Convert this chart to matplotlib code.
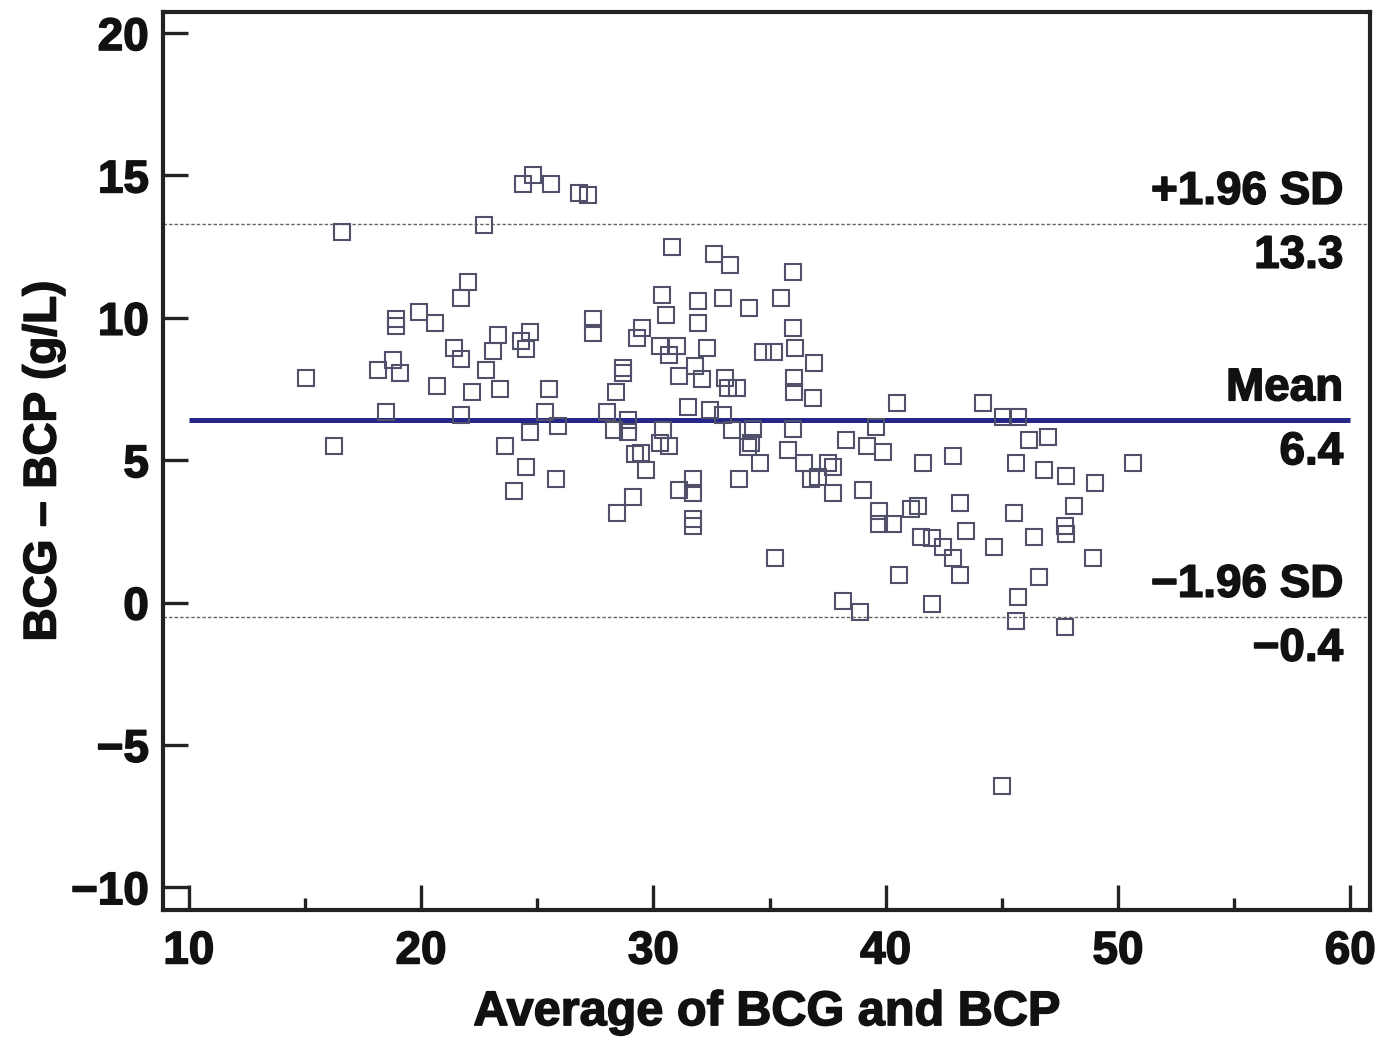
import matplotlib
matplotlib.use("Agg")
import matplotlib.pyplot as plt
import matplotlib.patheffects as pe
from matplotlib.ticker import MultipleLocator

# Bland-Altman data: average vs difference (g/L)
avg = [15.05, 16.25, 16.6, 18.15, 18.5, 18.8, 18.9, 18.9, 19.1, 19.9,
       20.6, 20.7, 21.4, 21.7, 21.7, 21.7, 22.0, 22.2, 22.7, 22.8,
       23.1, 23.3, 23.4, 23.6, 24.0, 24.3, 24.4, 24.5, 24.5, 24.7,
       24.7, 24.8, 25.35, 25.5, 25.6, 25.8, 25.9, 26.8, 27.2, 27.4,
       27.4, 28.0, 28.3, 28.4, 28.45, 28.7, 28.7, 28.9, 28.9, 29.1,
       29.2, 29.45, 29.3, 29.5, 29.7, 30.3, 30.65, 30.3, 30.35, 30.4,
       30.55, 30.65, 30.8, 31.0, 31.1, 31.1, 31.5, 31.7, 31.7, 31.7,
       31.7, 31.8, 31.9, 31.9, 32.1, 32.3, 32.45, 32.6, 33.0, 33.0,
       33.1, 33.2, 33.3, 33.4, 33.6, 33.7, 34.05, 34.1, 34.2, 34.3,
       34.6, 34.7, 35.2, 35.25, 35.5, 35.8, 36.0, 36.0, 36.0, 36.05,
       36.05, 36.1, 36.5, 36.8, 36.85, 36.9, 37.1, 37.5, 37.75, 37.75,
       38.15, 38.3, 38.9, 39.0, 39.2, 39.6, 39.7, 39.7, 39.9, 40.3,
       40.5, 40.55, 41.1, 41.4, 41.5, 41.6, 42.0, 42.0, 42.45, 42.9,
       42.9, 43.2, 43.2, 43.45, 44.2, 44.65, 45.0, 45.05, 45.5, 45.6,
       45.6, 45.7, 45.7, 46.15, 46.4, 46.6, 46.8, 47.0, 47.7, 47.75,
       47.75, 47.7, 48.1, 48.9, 49.0, 50.65]
diff = [7.9, 5.5, 13.0, 8.15, 6.7, 8.5, 9.95, 9.7, 8.05, 10.2,
        9.8, 7.6, 8.95, 8.55, 10.7, 6.6, 11.25, 7.4, 13.25, 8.15,
        8.85, 9.4, 7.5, 5.5, 3.9, 9.2, 14.7, 8.9, 4.75, 9.5,
        6.0, 15.0, 6.7, 7.5, 14.7, 4.35, 6.2, 14.4, 14.3, 9.95,
        9.45, 6.7, 6.05, 7.4, 3.15, 8.25, 8.05, 6.4, 6.0, 3.7,
        5.2, 5.25, 9.3, 9.65, 4.65, 5.6, 5.5, 9.0, 10.8, 6.05,
        10.1, 8.7, 12.5, 9.0, 7.95, 3.95, 6.85, 4.35, 3.85, 2.95,
        2.7, 8.3, 10.6, 9.8, 7.85, 8.95, 6.75, 12.25, 10.7, 6.6,
        7.9, 7.55, 11.85, 6.05, 7.55, 4.35, 5.45, 10.35, 5.6, 6.1,
        4.9, 8.8, 8.8, 1.55, 10.7, 5.35, 11.6, 9.65, 6.1, 7.9,
        7.4, 8.95, 4.9, 4.35, 7.2, 8.4, 4.4, 4.9, 4.75, 3.85,
        0.05, 5.7, -0.35, 3.95, 5.5, 6.15, 3.2, 2.75, 5.3, 2.75,
        7.0, 0.95, 3.3, 3.4, 2.3, 4.9, 2.25, -0.05, 1.95, 5.15,
        1.55, 3.5, 0.95, 2.5, 7.0, 1.95, -6.45, 6.5, 3.15, 4.9,
        -0.65, 6.5, 0.2, 5.7, 2.3, 0.9, 4.65, 5.8, 2.7, 2.4,
        4.45, -0.85, 3.4, 1.55, 4.2, 4.9]

mean_diff = 6.4
upper_loa = 13.3
lower_loa = -0.5
ref_labels = [("+1.96 SD", "13.3"), ("Mean", "6.4"), ("\u22121.96 SD", "\u22120.4")]

x_ticks = [10, 20, 30, 40, 50, 60]
y_ticks = [-10, -5, 0, 5, 10, 15, 20]

plt.rcParams["font.family"] = ["Liberation Sans", "DejaVu Sans"]
plt.rcParams["font.weight"] = "bold"

INK = "#111111"
heavy = [pe.withStroke(linewidth=1.1, foreground=INK)]

fig = plt.figure(figsize=(13.8, 10.43), dpi=100, facecolor="white")
ax = fig.add_axes([0.118, 0.1275, 0.875, 0.861])

ax.plot(avg, diff, linestyle="none", marker="s", markersize=11,
        markerfacecolor="none", markeredgecolor="#50506a", markeredgewidth=1.5,
        zorder=3)

ax.hlines(mean_diff, 10, 60, color="#25258a", linewidth=3.6, zorder=2)
ax.hlines([upper_loa, lower_loa], 8.9, 60.9, color="#666666", linewidth=1.0,
          linestyles=(0, (2.5, 1.5)), zorder=1)

# right-side annotations
label_ys = [upper_loa, mean_diff, lower_loa]
for (top, bottom), yv in zip(ref_labels, label_ys):
    ax.text(59.7, yv + 0.35, top, ha="right", va="bottom", fontsize=33,
            fontweight="bold", color=INK, path_effects=heavy)
    ax.text(59.7, yv - 0.35, bottom, ha="right", va="top", fontsize=33,
            fontweight="bold", color=INK, path_effects=heavy)

ax.set_xlim(8.88, 60.86)
ax.set_ylim(-10.8, 20.74)
ax.set_xticks(x_ticks)
ax.set_yticks(y_ticks)
ax.set_yticklabels([f"\u2212{abs(v)}" if v < 0 else str(v) for v in y_ticks])
ax.xaxis.set_minor_locator(MultipleLocator(5))

ax.tick_params(axis="both", which="major", direction="in", length=18, width=2.4,
               color="#222222", labelsize=33, labelcolor=INK)
ax.tick_params(axis="x", which="major", pad=14)
ax.tick_params(axis="y", which="major", pad=10)
ax.tick_params(axis="x", which="minor", direction="in", length=9, width=2.4,
               color="#222222")
for lbl in ax.get_xticklabels() + ax.get_yticklabels():
    lbl.set_fontweight("bold")
    lbl.set_path_effects(heavy)

for sp in ax.spines.values():
    sp.set_linewidth(3)
    sp.set_color("#222222")

ax.set_xlabel("Average of BCG and BCP", fontsize=35, fontweight="bold",
              labelpad=12, color=INK, path_effects=heavy)
ax.set_ylabel("BCG \u2013 BCP (g/L)", fontsize=33, fontweight="bold",
              labelpad=4, color=INK, path_effects=heavy)

fig.savefig("out.png", dpi=100, facecolor="white")
plt.close(fig)
